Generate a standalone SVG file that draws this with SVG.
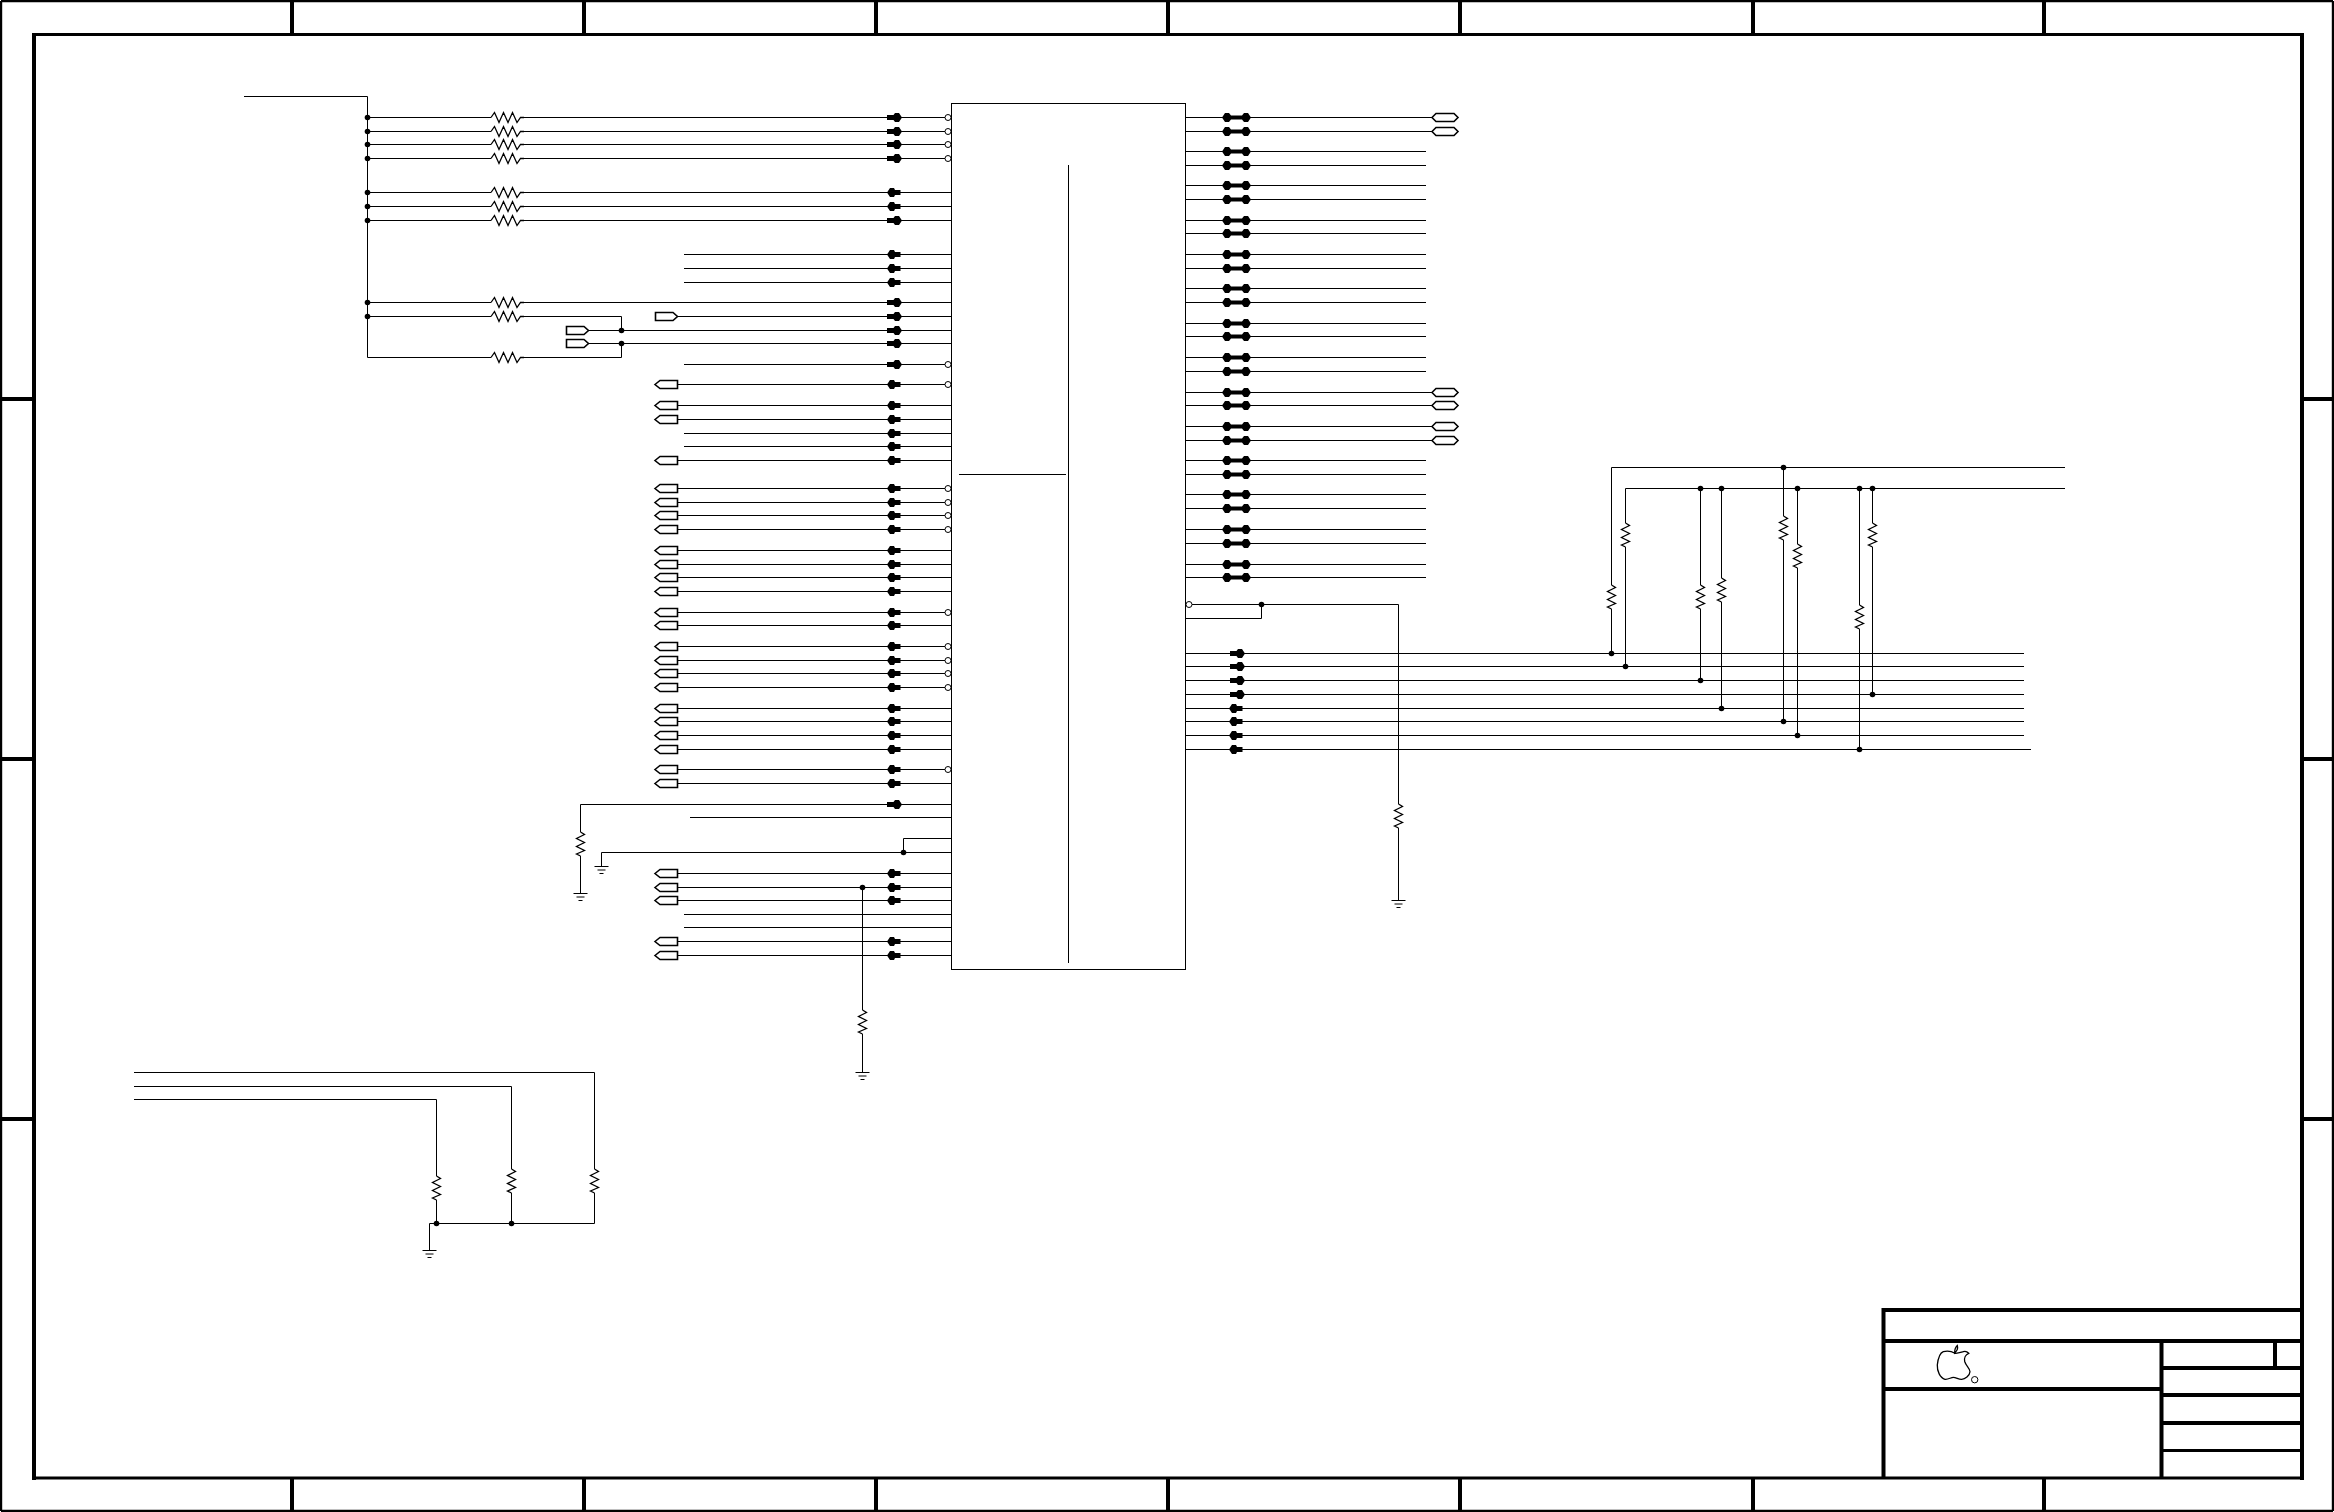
<svg xmlns="http://www.w3.org/2000/svg" width="2334" height="1512" viewBox="0 0 2334 1512">
<style>
.w{fill:none;stroke:#000;stroke-width:1}
.f{fill:#fff;stroke:#000;stroke-width:1.6}
.fr{fill:none;stroke:#000}
.fr3{stroke-width:3}.fr4{stroke-width:4}
.res{fill:none;stroke:#000;stroke-width:1.3}
.gnd{fill:none;stroke:#000;stroke-width:1}
.ap{fill:#000}
.d{fill:#000}
.oc{fill:#fff;stroke:#000;stroke-width:1}
</style>
<defs>
<polyline id="rh" class="res" points="0,0 3.5,-5 8,5 12.5,-5 17,5 21.5,-5 26,5 29.5,0 33,0"/>
<polyline id="rv" class="res" points="0,0 4,2.5 -4,6.5 4,10.5 -4,14.5 4,18.5 -4,22 0,24"/>
<path id="g" class="gnd" d="M-7 0H7M-4 3.5H4M-2 7H2"/>
<polygon id="al" class="ap" points="0,0 3,-4.5 7,-4.5 8,-2.5 13.5,-2.5 13.5,2.5 8,2.5 7,4.5 3,4.5"/>
<polygon id="ar" class="ap" points="0,-2.5 6.5,-2.5 8,-4.5 12,-4.5 15,0 12,4.5 8,4.5 6.5,2.5 0,2.5"/>
<polygon id="ad" class="ap" points="0,0 3,-4.5 7,-4.5 9,-2 20,-2 22,-4.5 26,-4.5 29,0 26,4.5 22,4.5 20,2 9,2 7,4.5 3,4.5"/>
<circle id="dot" class="d" r="2.8"/>
<circle id="oc" class="oc" r="3"/>
<polygon id="fl" class="f" points="0,0 5,-4 22.5,-4 22.5,4 5,4"/>
<polygon id="frt" class="f" points="0.5,-4 18,-4 22.5,0 18,4 0.5,4"/>
<polygon id="fh" class="f" points="0,0 4,-4 22,-4 26,0 22,4 4,4"/>
</defs>
<g id="frame">
<path class="fr" d="M1 1H2333M1 1V1511M1 1511H2333M2333 1V1511" style="stroke-width:2.4"/>
<path class="fr fr3" d="M32 34.5H2304M32 1478H2304"/>
<path class="fr fr4" d="M34 33V1480M2302 33V1480"/>
<path class="fr fr4" d="M292 0V34M584 0V34M876 0V34M1168 0V34M1460 0V34M1753 0V34M2044 0V34M292 1478V1512M584 1478V1512M876 1478V1512M1168 1478V1512M1460 1478V1512M1753 1478V1512M2044 1478V1512M0 399H34M0 759H34M0 1119H34M2302 399H2334M2302 759H2334M2302 1119H2334"/>
</g>
<g id="title-block">
<path class="fr fr4" d="M1883.5 1308V1478M1882 1310H2302M1882 1341H2302M1882 1389H2161M2161.5 1341V1478M2161 1368H2302M2161 1395H2302M2161 1423H2302M2275 1341V1368"/>
<path class="fr fr3" d="M2161 1450.5H2302"/>
<path id="apple" class="res" d="M1955 1353.3C1951 1351 1947 1350.8 1943.3 1351.7C1940 1353 1938 1359 1937.3 1365C1937 1371 1940 1378 1945 1379.3C1948 1379.8 1951 1377.3 1953.3 1377.3C1956 1377.3 1959 1379.6 1961.7 1379.3C1965 1379.3 1969.6 1376 1970 1371.7C1970 1368.5 1966 1366 1964.7 1361.5C1964 1358 1965.5 1354.5 1968.7 1353.3C1967 1351.5 1965 1351 1963.3 1351.7C1961 1352.3 1958 1353.6 1955 1353.3ZM1954.6 1353C1954.6 1350 1955.5 1347 1957.3 1345.5C1958 1348 1957 1351 1954.6 1353Z"/>
<circle id="apple-r" class="oc" cx="1974.7" cy="1379.7" r="3.2"/>
</g>
<g id="U1"><rect x="951.5" y="103.5" width="234" height="866" fill="#fff" stroke="#000"/><path class="w" d="M1068.5 165V963M959 474.5H1066"/></g>
<g id="connectors">
<path class="w" d="M244 96.5H367.5V357.5H491M524 357.5H621.5V343.5M367.5 117.5H491M524 117.5H945M367.5 131.5H491M524 131.5H945M367.5 144.5H491M524 144.5H945M367.5 158.5H491M524 158.5H945M367.5 192.5H491M524 192.5H951M367.5 206.5H491M524 206.5H951M367.5 220.5H491M524 220.5H951M684 254.5H951M684 268.5H951M684 282.5H951M367.5 302.5H491M524 302.5H951M367.5 316.5H491M524 316.5H621.5V330.5M678 316.5H951M588 330.5H951M588 343.5H951M684 364.5H945M678 384.5H945M678 405.5H951M678 419.5H951M684 433.5H951M684 446.5H951M678 460.5H951M678 488.5H945M678 502.5H945M678 515.5H945M678 529.5H945M678 550.5H951M678 564.5H951M678 577.5H951M678 591.5H951M678 612.5H945M678 625.5H951M678 646.5H945M678 660.5H945M678 673.5H945M678 687.5H945M678 708.5H951M678 721.5H951M678 735.5H951M678 749.5H951M678 769.5H945M678 783.5H951M951 804.5H580.5V832M580.5 856V893.5M690 817.5H951M951 838.5H903.5V852.5M951 852.5H601.5V866M678 873.5H951M678 887.5H951M862.5 887.5V1010M862.5 1034V1072M678 900.5H951M684 914.5H951M684 927.5H951M678 941.5H951M678 955.5H951"/>
<path class="w" d="M1185 117.5H1432M1185 131.5H1432M1185 151.5H1426M1185 165.5H1426M1185 185.5H1426M1185 199.5H1426M1185 220.5H1426M1185 233.5H1426M1185 254.5H1426M1185 268.5H1426M1185 288.5H1426M1185 302.5H1426M1185 323.5H1426M1185 336.5H1426M1185 357.5H1426M1185 371.5H1426M1185 392.5H1432M1185 405.5H1432M1185 426.5H1432M1185 440.5H1432M1185 460.5H1426M1185 474.5H1426M1185 494.5H1426M1185 508.5H1426M1185 529.5H1426M1185 543.5H1426M1185 564.5H1426M1185 577.5H1426"/>
<path class="w" d="M1192 604.5H1398.5V804M1398.5 828V900M1261.5 604.5V618.5H1185"/>
<path class="w" d="M1185 653.5H2024M1185 666.5H2024M1185 680.5H2024M1185 694.5H2024M1185 708.5H2024M1185 721.5H2024M1185 735.5H2024M1185 749.5H2031"/>
<path class="w" d="M2065 467.5H1611.5V585M1611.5 609V653.5M2065 488.5H1625.5V523M1625.5 547V666.5M1700.5 488.5V585M1700.5 609V680.5M1721.5 488.5V578M1721.5 602V708.5M1783.5 467.5V516M1783.5 540V721.5M1797.5 488.5V544M1797.5 568V735.5M1859.5 488.5V605M1859.5 629V749.5M1872.5 488.5V523M1872.5 547V694.5"/>
<path class="w" d="M134 1072.5H594.5V1169M594.5 1193V1223.5H429.5V1250M134 1086.5H511.5V1169M511.5 1193V1223.5M134 1099.5H436.5V1176M436.5 1200V1223.5"/>
<use href="#dot" x="367.5" y="117.5"/><use href="#dot" x="367.5" y="131.5"/><use href="#dot" x="367.5" y="144.5"/><use href="#dot" x="367.5" y="158.5"/><use href="#dot" x="367.5" y="192.5"/><use href="#dot" x="367.5" y="206.5"/><use href="#dot" x="367.5" y="220.5"/><use href="#dot" x="367.5" y="302.5"/><use href="#dot" x="367.5" y="316.5"/><use href="#dot" x="621.5" y="330.5"/><use href="#dot" x="621.5" y="343.5"/><use href="#dot" x="903.5" y="852.5"/><use href="#dot" x="862.5" y="887.5"/><use href="#dot" x="1261.5" y="604.5"/><use href="#dot" x="1611.5" y="653.5"/><use href="#dot" x="1625.5" y="666.5"/><use href="#dot" x="1700.5" y="488.5"/><use href="#dot" x="1700.5" y="680.5"/><use href="#dot" x="1721.5" y="488.5"/><use href="#dot" x="1721.5" y="708.5"/><use href="#dot" x="1783.5" y="467.5"/><use href="#dot" x="1783.5" y="721.5"/><use href="#dot" x="1797.5" y="488.5"/><use href="#dot" x="1797.5" y="735.5"/><use href="#dot" x="1859.5" y="488.5"/><use href="#dot" x="1859.5" y="749.5"/><use href="#dot" x="1872.5" y="488.5"/><use href="#dot" x="1872.5" y="694.5"/><use href="#dot" x="436.5" y="1223.5"/><use href="#dot" x="511.5" y="1223.5"/>
<use href="#ar" x="887" y="117.5"/><use href="#ar" x="887" y="131.5"/><use href="#ar" x="887" y="144.5"/><use href="#ar" x="887" y="158.5"/><use href="#al" x="887" y="192.5"/><use href="#al" x="887" y="206.5"/><use href="#ar" x="887" y="220.5"/><use href="#al" x="887" y="254.5"/><use href="#al" x="887" y="268.5"/><use href="#al" x="887" y="282.5"/><use href="#ar" x="887" y="302.5"/><use href="#ar" x="887" y="316.5"/><use href="#ar" x="887" y="330.5"/><use href="#ar" x="887" y="343.5"/><use href="#ar" x="887" y="364.5"/>
<use href="#al" x="887" y="384.5"/><use href="#al" x="887" y="405.5"/><use href="#al" x="887" y="419.5"/><use href="#al" x="887" y="433.5"/><use href="#al" x="887" y="446.5"/><use href="#al" x="887" y="460.5"/><use href="#al" x="887" y="488.5"/><use href="#al" x="887" y="502.5"/><use href="#al" x="887" y="515.5"/><use href="#al" x="887" y="529.5"/><use href="#al" x="887" y="550.5"/><use href="#al" x="887" y="564.5"/><use href="#al" x="887" y="577.5"/><use href="#al" x="887" y="591.5"/><use href="#al" x="887" y="612.5"/><use href="#al" x="887" y="625.5"/><use href="#al" x="887" y="646.5"/><use href="#al" x="887" y="660.5"/><use href="#al" x="887" y="673.5"/><use href="#al" x="887" y="687.5"/><use href="#al" x="887" y="708.5"/><use href="#al" x="887" y="721.5"/><use href="#al" x="887" y="735.5"/><use href="#al" x="887" y="749.5"/><use href="#al" x="887" y="769.5"/><use href="#al" x="887" y="783.5"/><use href="#ar" x="887" y="804.5"/><use href="#al" x="887" y="873.5"/><use href="#al" x="887" y="887.5"/><use href="#al" x="887" y="900.5"/><use href="#al" x="887" y="941.5"/><use href="#al" x="887" y="955.5"/>
<use href="#ad" x="1222" y="117.5"/><use href="#ad" x="1222" y="131.5"/><use href="#ad" x="1222" y="151.5"/><use href="#ad" x="1222" y="165.5"/><use href="#ad" x="1222" y="185.5"/><use href="#ad" x="1222" y="199.5"/><use href="#ad" x="1222" y="220.5"/><use href="#ad" x="1222" y="233.5"/><use href="#ad" x="1222" y="254.5"/><use href="#ad" x="1222" y="268.5"/><use href="#ad" x="1222" y="288.5"/><use href="#ad" x="1222" y="302.5"/><use href="#ad" x="1222" y="323.5"/><use href="#ad" x="1222" y="336.5"/><use href="#ad" x="1222" y="357.5"/><use href="#ad" x="1222" y="371.5"/><use href="#ad" x="1222" y="392.5"/><use href="#ad" x="1222" y="405.5"/><use href="#ad" x="1222" y="426.5"/><use href="#ad" x="1222" y="440.5"/><use href="#ad" x="1222" y="460.5"/><use href="#ad" x="1222" y="474.5"/><use href="#ad" x="1222" y="494.5"/><use href="#ad" x="1222" y="508.5"/><use href="#ad" x="1222" y="529.5"/><use href="#ad" x="1222" y="543.5"/><use href="#ad" x="1222" y="564.5"/><use href="#ad" x="1222" y="577.5"/>
<use href="#ar" x="1230" y="653.5"/><use href="#ar" x="1230" y="666.5"/><use href="#ar" x="1230" y="680.5"/><use href="#ar" x="1230" y="694.5"/><use href="#al" x="1229" y="708.5"/><use href="#al" x="1229" y="721.5"/><use href="#al" x="1229" y="735.5"/><use href="#al" x="1229" y="749.5"/>
</g>
<g id="pins">
<use href="#oc" x="948" y="117.5"/><use href="#oc" x="948" y="131.5"/><use href="#oc" x="948" y="144.5"/><use href="#oc" x="948" y="158.5"/><use href="#oc" x="948" y="364.5"/><use href="#oc" x="948" y="384.5"/><use href="#oc" x="948" y="488.5"/><use href="#oc" x="948" y="502.5"/><use href="#oc" x="948" y="515.5"/><use href="#oc" x="948" y="529.5"/><use href="#oc" x="948" y="612.5"/><use href="#oc" x="948" y="646.5"/><use href="#oc" x="948" y="660.5"/><use href="#oc" x="948" y="673.5"/><use href="#oc" x="948" y="687.5"/><use href="#oc" x="948" y="769.5"/><use href="#oc" x="1189" y="604.5"/>
</g>
<g id="resistors">
<g id="R1"><use href="#rh" x="491" y="117.5"/></g><g id="R2"><use href="#rh" x="491" y="131.5"/></g><g id="R3"><use href="#rh" x="491" y="144.5"/></g><g id="R4"><use href="#rh" x="491" y="158.5"/></g><g id="R5"><use href="#rh" x="491" y="192.5"/></g><g id="R6"><use href="#rh" x="491" y="206.5"/></g><g id="R7"><use href="#rh" x="491" y="220.5"/></g><g id="R8"><use href="#rh" x="491" y="302.5"/></g><g id="R9"><use href="#rh" x="491" y="316.5"/></g><g id="R10"><use href="#rh" x="491" y="357.5"/></g>
<g id="R11"><use href="#rv" x="580.5" y="832"/></g><g id="R12"><use href="#rv" x="862.5" y="1010"/></g><g id="R13"><use href="#rv" x="1398.5" y="804"/></g>
<g id="R14"><use href="#rv" x="1611.5" y="585"/></g><g id="R15"><use href="#rv" x="1625.5" y="523"/></g><g id="R16"><use href="#rv" x="1700.5" y="585"/></g><g id="R17"><use href="#rv" x="1721.5" y="578"/></g><g id="R18"><use href="#rv" x="1783.5" y="516"/></g><g id="R19"><use href="#rv" x="1797.5" y="544"/></g><g id="R20"><use href="#rv" x="1859.5" y="605"/></g><g id="R21"><use href="#rv" x="1872.5" y="523"/></g>
<g id="R22"><use href="#rv" x="436.5" y="1176"/></g><g id="R23"><use href="#rv" x="511.5" y="1169"/></g><g id="R24"><use href="#rv" x="594.5" y="1169"/></g>
</g>
<g id="grounds">
<g id="G1"><use href="#g" x="580.5" y="893.5"/></g><g id="G2"><use href="#g" x="601.5" y="866.5"/></g><g id="G3"><use href="#g" x="862.5" y="1072.5"/></g><g id="G4"><use href="#g" x="1398.5" y="900.5"/></g><g id="G5"><use href="#g" x="429.5" y="1250.5"/></g>
</g>
<g id="flags">
<g id="F1"><use href="#frt" x="655" y="316.5"/></g><g id="F2"><use href="#frt" x="566" y="330.5"/></g><g id="F3"><use href="#frt" x="566" y="343.5"/></g>
<g id="F4"><use href="#fl" x="655" y="384.5"/></g><g id="F5"><use href="#fl" x="655" y="405.5"/></g><g id="F6"><use href="#fl" x="655" y="419.5"/></g><g id="F7"><use href="#fl" x="655" y="460.5"/></g><g id="F8"><use href="#fl" x="655" y="488.5"/></g><g id="F9"><use href="#fl" x="655" y="502.5"/></g><g id="F10"><use href="#fl" x="655" y="515.5"/></g><g id="F11"><use href="#fl" x="655" y="529.5"/></g><g id="F12"><use href="#fl" x="655" y="550.5"/></g><g id="F13"><use href="#fl" x="655" y="564.5"/></g><g id="F14"><use href="#fl" x="655" y="577.5"/></g><g id="F15"><use href="#fl" x="655" y="591.5"/></g><g id="F16"><use href="#fl" x="655" y="612.5"/></g><g id="F17"><use href="#fl" x="655" y="625.5"/></g><g id="F18"><use href="#fl" x="655" y="646.5"/></g><g id="F19"><use href="#fl" x="655" y="660.5"/></g><g id="F20"><use href="#fl" x="655" y="673.5"/></g><g id="F21"><use href="#fl" x="655" y="687.5"/></g><g id="F22"><use href="#fl" x="655" y="708.5"/></g><g id="F23"><use href="#fl" x="655" y="721.5"/></g><g id="F24"><use href="#fl" x="655" y="735.5"/></g><g id="F25"><use href="#fl" x="655" y="749.5"/></g><g id="F26"><use href="#fl" x="655" y="769.5"/></g><g id="F27"><use href="#fl" x="655" y="783.5"/></g><g id="F28"><use href="#fl" x="655" y="873.5"/></g><g id="F29"><use href="#fl" x="655" y="887.5"/></g><g id="F30"><use href="#fl" x="655" y="900.5"/></g><g id="F31"><use href="#fl" x="655" y="941.5"/></g><g id="F32"><use href="#fl" x="655" y="955.5"/></g>
<g id="F33"><use href="#fh" x="1432" y="117.5"/></g><g id="F34"><use href="#fh" x="1432" y="131.5"/></g><g id="F35"><use href="#fh" x="1432" y="392.5"/></g><g id="F36"><use href="#fh" x="1432" y="405.5"/></g><g id="F37"><use href="#fh" x="1432" y="426.5"/></g><g id="F38"><use href="#fh" x="1432" y="440.5"/></g>
</g>
</svg>
